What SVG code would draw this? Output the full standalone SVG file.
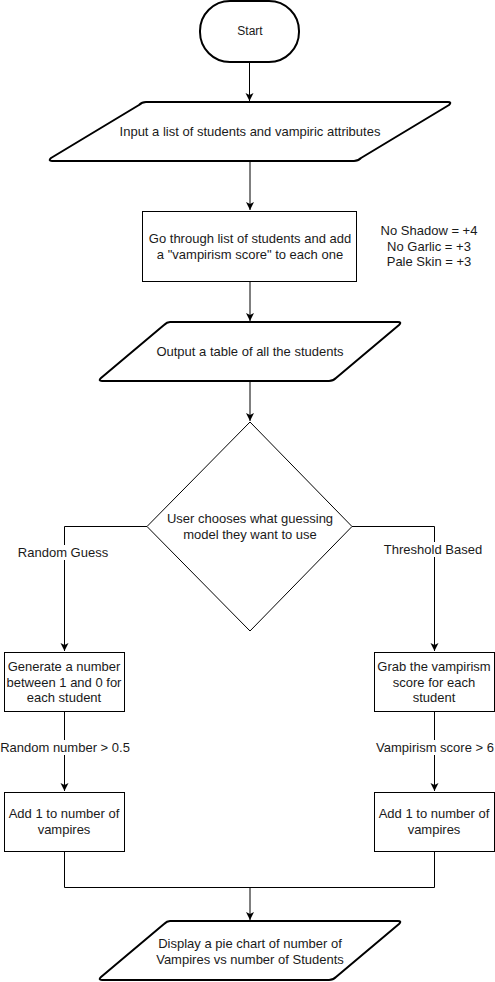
<svg xmlns="http://www.w3.org/2000/svg" width="495" height="982" viewBox="0 0 495 982">
<defs>
<marker id="arr" markerWidth="10" markerHeight="10" refX="8" refY="4" orient="auto" markerUnits="userSpaceOnUse">
<path d="M0,0 L8,4 L0,8 L2,4 Z" fill="#000"/>
</marker>
<style>
text{font-family:"Liberation Sans",Arial,sans-serif;font-size:13px;fill:#1a1a1a;text-anchor:middle;dominant-baseline:central}
.sm{font-size:12px}
.thick{fill:#fff;stroke:#000;stroke-width:2;stroke-linejoin:round}
.thin{fill:#fff;stroke:#000;stroke-width:1}
.edge{fill:none;stroke:#000;stroke-width:1}
.lbl{fill:#fff}
</style>
</defs>
<rect width="495" height="982" fill="#fff"/>
<g id="connectors">
<path class="edge" d="M249.5,62 V101" marker-end="url(#arr)"/>
<path class="edge" d="M250,161 V210" marker-end="url(#arr)"/>
<path class="edge" d="M250,281 V321" marker-end="url(#arr)"/>
<path class="edge" d="M250,381 V421" marker-end="url(#arr)"/>
<path class="edge" d="M147,526.5 H64.5 V651" marker-end="url(#arr)"/>
<path class="edge" d="M352,526.5 H434.5 V651" marker-end="url(#arr)"/>
<path class="edge" d="M64.5,711 V791" marker-end="url(#arr)"/>
<path class="edge" d="M434.5,711 V791" marker-end="url(#arr)"/>
<path class="edge" d="M64.5,851 V887.5 H434.5 V851"/>
<path class="edge" stroke-width="1.5" d="M250,887.5 V920" marker-end="url(#arr)"/>
<rect class="lbl" x="16" y="545" width="96" height="15"/>
<text x="63" y="552">Random Guess</text>
<rect class="lbl" x="383" y="542" width="102" height="15"/>
<text x="433" y="549">Threshold Based</text>
<rect class="lbl" x="0" y="740" width="131" height="15"/>
<text x="65" y="747">Random number &gt; 0.5</text>
<rect class="lbl" x="375" y="740" width="120" height="15"/>
<text x="435" y="747">Vampirism score &gt; 6</text>
</g>
<g id="start">
<rect class="thick" x="200" y="1" width="99" height="61" rx="30" ry="30"/>
<text class="sm" x="250" y="31">Start</text>
</g>
<g id="input">
<path class="thick" d="M146,102 H448 Q452,102 449,105 L361,158 Q358,161 354,161 H52 Q48,161 51,158 L139,105 Q142,102 146,102 Z"/>
<text x="250" y="131">Input a list of students and vampiric attributes</text>
</g>
<g id="process">
<rect class="thin" x="142.5" y="211.5" width="214" height="70"/>
<text x="250" y="238">Go through list of students and add</text>
<text x="250" y="254">a "vampirism score" to each one</text>
</g>
<g id="note">
<text x="429" y="230">No Shadow = +4</text>
<text x="429" y="246">No Garlic = +3</text>
<text x="429" y="261">Pale Skin = +3</text>
</g>
<g id="output">
<path class="thick" d="M170,322 H398 Q402,322 399,325 L336,378 Q333,381 329,381 H102 Q98,381 101,378 L164,325 Q167,322 170,322 Z"/>
<text x="250" y="351">Output a table of all the students</text>
</g>
<g id="decision">
<path class="thin" d="M250,422 L352,526.5 L250,631 L147,526.5 Z"/>
<text x="250" y="518">User chooses what guessing</text>
<text x="250" y="534">model they want to use</text>
</g>
<g id="generate">
<rect class="thin" x="4.5" y="652.5" width="120" height="59"/>
<text x="64" y="666">Generate a number</text>
<text x="64" y="682">between 1 and 0 for</text>
<text x="64" y="697">each student</text>
</g>
<g id="grab">
<rect class="thin" x="374.5" y="652.5" width="120" height="59"/>
<text x="434" y="666">Grab the vampirism</text>
<text x="434" y="682">score for each</text>
<text x="434" y="697">student</text>
</g>
<g id="add-left">
<rect class="thin" x="4.5" y="792.5" width="120" height="59"/>
<text x="64" y="813">Add 1 to number of</text>
<text x="64" y="829">vampires</text>
</g>
<g id="add-right">
<rect class="thin" x="374.5" y="792.5" width="120" height="59"/>
<text x="434" y="813">Add 1 to number of</text>
<text x="434" y="829">vampires</text>
</g>
<g id="display">
<path class="thick" d="M170,921 H398 Q402,921 399,924 L336,977 Q333,980 329,980 H102 Q98,980 101,977 L164,924 Q167,921 170,921 Z"/>
<text x="250" y="943">Display a pie chart of number of</text>
<text x="250" y="959">Vampires vs number of Students</text>
</g>
</svg>
